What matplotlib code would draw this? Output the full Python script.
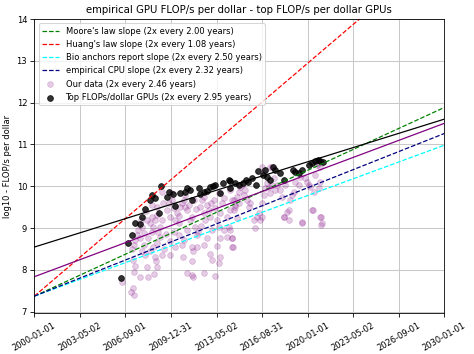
import numpy as np
import matplotlib
matplotlib.use("Agg")
import matplotlib.pyplot as plt

# ---------------- data ----------------
x_tick_labels = ["2000-01-01", "2003-05-02", "2006-09-01", "2009-12-31", "2013-05-02",
                 "2016-08-31", "2020-01-01", "2023-05-02", "2026-09-01", "2030-01-01"]

# trend lines: (label, start value at 2000, doubling time in years)
trend_labels = ["Moore's law slope (2x every 2.00 years)",
                "Huang's law slope (2x every 1.08 years)",
                "Bio anchors report slope (2x every 2.50 years)",
                "empirical CPU slope (2x every 2.32 years)"]
trend_start = [7.37, 7.37, 7.37, 7.37]
trend_doubling = [2.00, 1.08, 2.50, 2.32]
trend_colors = ["green", "red", "cyan", "navy"]

fit_all_start = 7.835      # "Our data" fit at 2000
fit_all_doubling = 2.46
fit_top_start = 8.545      # top GPUs fit at 2000
fit_top_doubling = 2.95

our_years = [2006.40, 2007.21, 2007.33, 2007.10, 2007.21, 2007.26, 2007.38, 2007.74, 2008.23, 2008.35,
             2008.77, 2008.84, 2008.91, 2008.96, 2009.33, 2009.94, 2010.55, 2010.92, 2010.80, 2010.87,
             2011.16, 2011.53, 2011.60, 2011.53, 2011.60, 2011.53, 2011.89, 2012.38, 2012.38, 2012.87,
             2013.00, 2013.24, 2013.36, 2013.61, 2013.48, 2013.56, 2013.85, 2014.09, 2014.46, 2014.53,
             2014.22,
             2007.13, 2007.26, 2007.38, 2007.50, 2007.62, 2007.87, 2007.99, 2007.74, 2008.23, 2008.48,
             2008.60, 2008.72, 2008.84, 2008.96, 2009.08, 2009.16, 2009.21, 2009.33, 2009.33, 2009.70,
             2009.82, 2009.94, 2010.07, 2010.19, 2010.31, 2010.43, 2010.55, 2010.67, 2010.80, 2010.92,
             2011.04, 2011.16, 2011.29, 2011.41, 2011.53, 2011.65, 2011.77, 2011.89, 2012.14, 2012.26,
             2012.38, 2012.51, 2012.63, 2012.75, 2012.87, 2013.12, 2013.24, 2013.36, 2013.48, 2013.61,
             2013.73, 2013.85, 2014.09, 2014.34, 2014.58, 2014.70, 2014.82, 2014.95,
             2008.00, 2008.30, 2008.50, 2008.60, 2009.00, 2009.50, 2009.60, 2009.90, 2010.20, 2010.30,
             2008.10, 2008.70, 2007.90, 2012.00, 2012.60, 2013.00, 2012.20, 2011.20, 2010.60, 2009.40,
             2009.00, 2008.60, 2008.20, 2007.80, 2010.00, 2011.00, 2012.40, 2013.50, 2011.80, 2012.90,
             2014.34, 2014.46, 2014.58, 2014.70, 2014.83, 2014.95, 2015.07, 2015.19, 2015.31, 2015.44,
             2015.56, 2015.68, 2015.80, 2016.05, 2016.17, 2016.29, 2016.41, 2016.54, 2016.66, 2016.66,
             2016.78, 2016.90, 2017.02, 2017.15, 2017.27, 2017.39, 2017.39, 2017.51, 2017.63, 2017.76,
             2018.00, 2018.12, 2018.24, 2018.37, 2018.61, 2018.61, 2018.73, 2018.86, 2018.98, 2019.10,
             2019.34, 2019.47, 2019.59, 2019.83, 2019.95, 2020.08, 2020.20, 2020.32, 2020.44, 2020.56,
             2020.69, 2020.81, 2020.88, 2020.88, 2020.98, 2020.98, 2020.81, 2014.46, 2014.46, 2014.34,
             2016.66, 2017.27, 2016.78, 2018.49, 2018.24, 2019.59, 2020.40, 2020.93, 2021.05]
our_values = [7.72, 7.56, 7.40, 7.48, 8.24, 7.96, 8.10, 7.84, 8.07, 7.84,
              7.90, 8.31, 8.20, 8.07, 8.35, 8.35, 8.83, 8.71, 8.60, 8.31,
              7.92, 7.88, 7.84, 8.55, 8.46, 8.20, 8.55, 7.92, 8.60, 8.39,
              8.24, 7.86, 8.58, 8.31, 8.16, 8.75, 8.95, 8.79, 8.75, 8.55,
              9.03,
              8.51, 8.59, 8.71, 8.83, 8.95, 9.03, 8.87, 8.75, 9.19, 9.11,
              9.27, 9.03, 9.19, 9.31, 8.91, 8.79, 9.03, 9.19, 9.87, 9.43,
              9.59, 9.27, 9.67, 9.47, 9.19, 9.35, 9.11, 9.51, 9.59, 9.67,
              9.51, 9.43, 9.55, 9.19, 9.27, 9.67, 9.03, 8.83, 9.51, 9.67,
              9.35, 9.19, 9.55, 9.43, 9.27, 9.67, 9.47, 9.19, 9.03, 9.35,
              9.59, 9.71, 9.27, 9.43, 9.67, 9.51, 9.23, 9.59,
              8.60, 8.75, 8.45, 8.90, 8.65, 8.50, 8.85, 8.70, 8.90, 8.55,
              8.35, 8.55, 8.45, 8.90, 8.75, 8.95, 9.05, 8.95, 9.30, 9.60,
              9.50, 9.55, 9.40, 9.20, 9.85, 9.80, 9.75, 9.85, 9.45, 9.60,
              9.91, 9.67, 9.43, 9.55, 9.75, 9.87, 9.99, 10.03, 9.79, 9.91,
              9.67, 9.51, 9.59, 9.19, 8.99, 9.27, 9.35, 9.19, 9.27, 9.59,
              9.79, 9.95, 10.07, 9.99, 9.83, 10.03, 10.47, 10.19, 9.91, 10.03,
              9.91, 9.75, 9.27, 10.03, 9.43, 9.19, 9.67, 9.79, 9.87, 10.11,
              10.03, 10.23, 9.15, 10.19, 10.11, 10.03, 9.99, 9.43, 9.87, 10.27,
              10.51, 9.95, 10.47, 10.11, 9.27, 9.07, 10.55, 8.75, 8.55, 8.95,
              10.47, 10.47, 10.31, 9.39, 9.27, 9.13, 9.43, 9.27, 9.12]

top_years = [2006.33, 2006.84, 2007.18, 2007.38, 2007.74, 2007.87, 2008.11, 2008.43, 2008.60, 2008.84,
             2009.09, 2009.28, 2009.70, 2009.82, 2010.18, 2010.31, 2010.67, 2011.04, 2011.16, 2011.41,
             2011.53, 2012.02, 2012.14, 2012.38, 2012.63, 2012.87, 2013.11, 2013.24, 2013.60, 2013.80,
             2014.21, 2014.34, 2014.70, 2014.95, 2014.34, 2015.30, 2015.50, 2015.67, 2015.93, 2016.24,
             2016.34, 2016.70, 2016.85, 2017.02, 2017.22, 2017.46, 2017.63, 2017.95, 2018.24, 2018.93,
             2019.10, 2019.34, 2019.59, 2020.08, 2020.32, 2020.57, 2020.74, 2020.93, 2021.13]
top_values = [7.80, 8.65, 8.83, 9.11, 9.09, 9.27, 9.45, 9.67, 9.79, 9.71,
              9.35, 10.00, 9.75, 9.87, 9.81, 9.53, 9.84, 9.87, 9.96, 9.91,
              9.67, 9.95, 9.81, 9.87, 9.89, 9.99, 10.00, 10.03, 9.84, 10.08,
              10.15, 9.96, 10.08, 10.03, 10.13, 10.07, 10.16, 10.11, 10.19, 10.03,
              10.37, 10.28, 10.40, 10.21, 10.16, 10.47, 10.40, 10.31, 10.15, 10.39,
              10.35, 10.32, 10.39, 10.51, 10.56, 10.61, 10.64, 10.61, 10.59]

# ---------------- plot ----------------
plt.rcParams["font.size"] = 8.2
dpi = 74
fig = plt.figure(figsize=(474 / dpi, 354 / dpi), dpi=dpi)
ax = fig.add_axes([0.0724, 0.115, 0.865, 0.831])

x0, x1 = 2000.0, 2030.0
xs = np.array([x0, x1])

for lab, s, d, c in zip(trend_labels, trend_start, trend_doubling, trend_colors):
    ax.plot(xs, s + np.log10(2) / d * (xs - x0), "--", color=c, label=lab, lw=1.2)

ax.plot(xs, fit_all_start + np.log10(2) / fit_all_doubling * (xs - x0), color="purple", lw=1.2)
ax.plot(xs, fit_top_start + np.log10(2) / fit_top_doubling * (xs - x0), color="black", lw=1.2)

ax.scatter(our_years, our_values, color="purple", alpha=0.2, s=32, linewidths=0.8,
           label="Our data (2x every 2.46 years)")
ax.scatter(top_years, top_values, color="black", alpha=0.8, s=32, linewidths=0.8,
           label="Top FLOPs/dollar GPUs (2x every 2.95 years)")

ax.set_xlim(x0, x1)
ax.set_ylim(6.96, 14)
ax.set_xticks(np.linspace(x0, x1, len(x_tick_labels)))
ax.set_xticklabels(x_tick_labels, rotation=30, ha="center")
ax.set_yticks([7, 8, 9, 10, 11, 12, 13, 14])
ax.grid(True, color="#c8c8c8", lw=1.0)
ax.set_axisbelow(True)
ax.set_ylabel("log10 - FLOP/s per dollar")
ax.set_title("empirical GPU FLOP/s per dollar - top FLOP/s per dollar GPUs", fontsize=9.8)
ax.legend(loc="upper left")

fig.savefig("out.png", dpi=dpi)
